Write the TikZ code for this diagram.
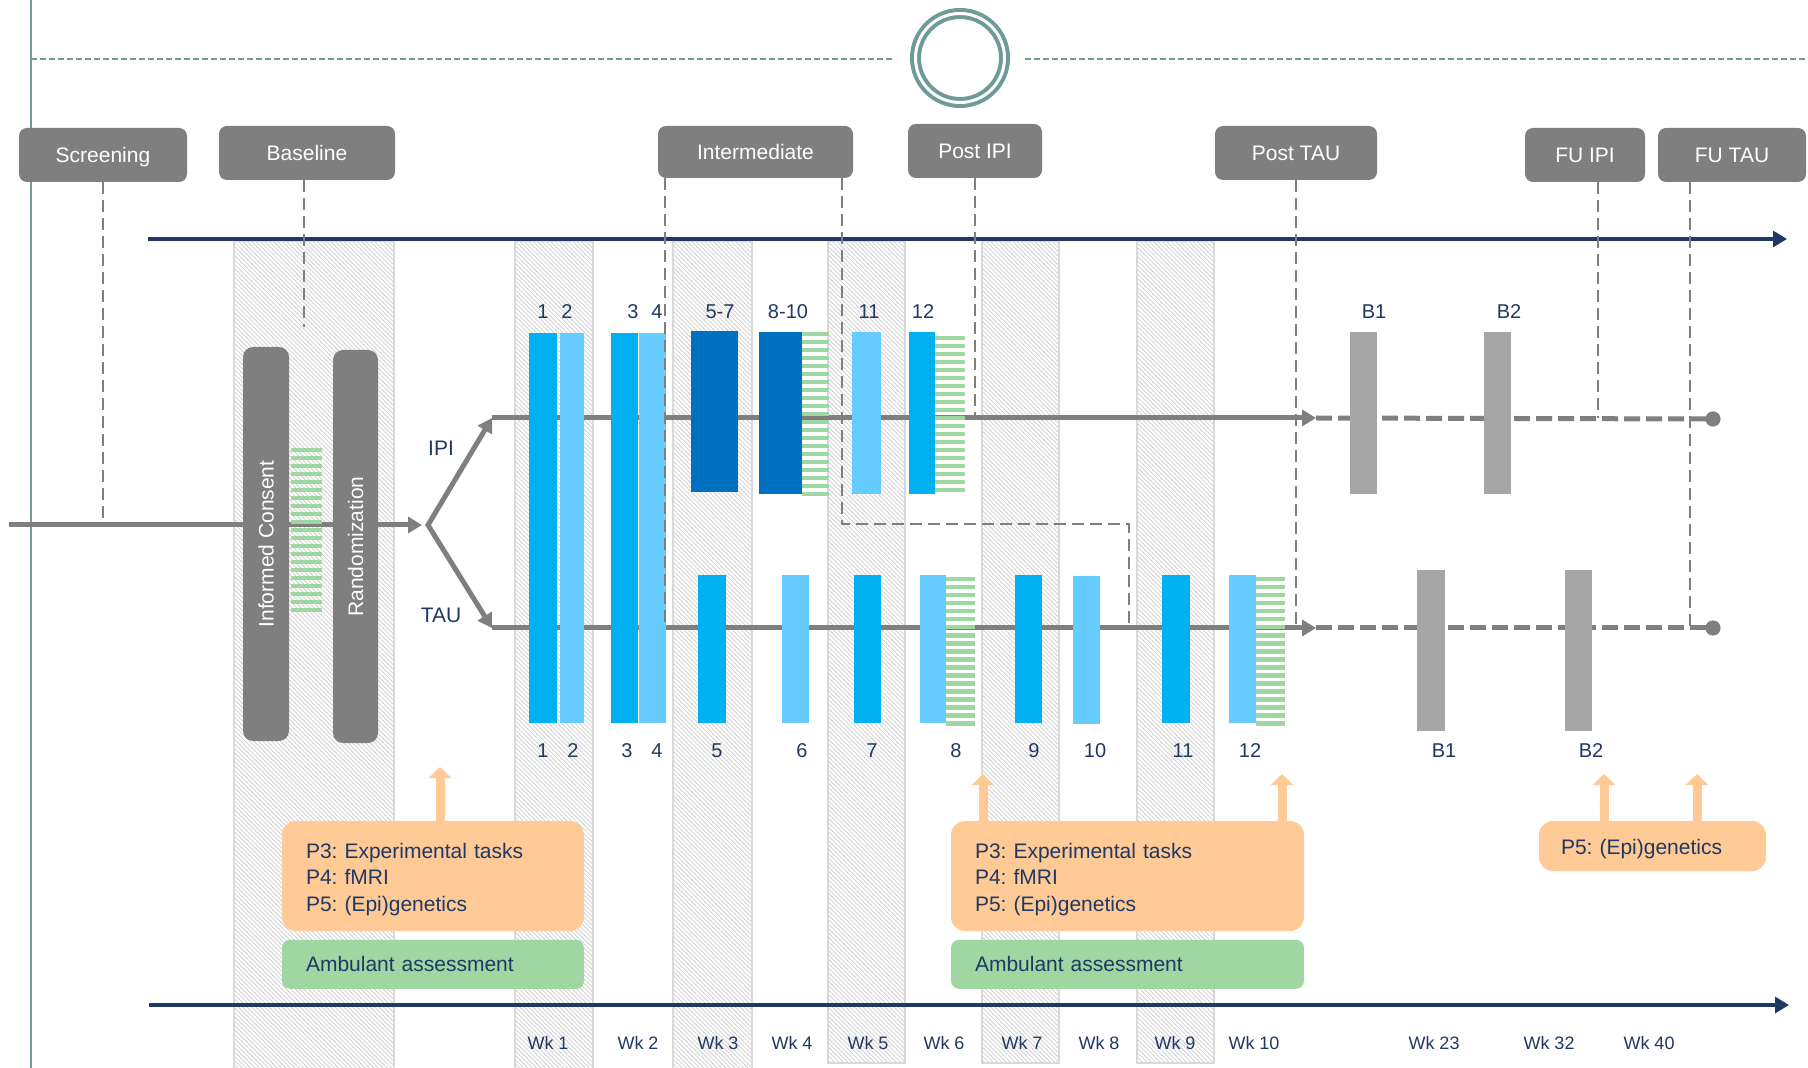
\documentclass[tikz,border=0pt]{standalone}
\usepackage{fontspec}
\setmainfont{Liberation Sans}
\usepackage{tikz}
\usetikzlibrary{arrows.meta, patterns, positioning}
\frenchspacing

\definecolor{navy}{HTML}{1F3864}
\definecolor{boxgrey}{HTML}{7F7F7F}
\definecolor{boostgrey}{HTML}{A6A6A6}
\definecolor{sessblue}{HTML}{00B0F0}
\definecolor{sesslight}{HTML}{66CCFF}
\definecolor{sessdark}{HTML}{0070C0}
\definecolor{stripegreen}{HTML}{A0D6A2}
\definecolor{taskpeach}{HTML}{FFCA95}
\definecolor{clockteal}{HTML}{6E9A98}

% fine hatching for the week columns
\pgfdeclarepatternformonly{finehatch}{\pgfqpoint{-1pt}{-1pt}}{\pgfqpoint{3.2pt}{3.2pt}}{\pgfqpoint{2.2pt}{2.2pt}}{%
  \pgfsetlinewidth{0.4pt}
  \pgfpathmoveto{\pgfqpoint{0pt}{2.2pt}}
  \pgfpathlineto{\pgfqpoint{2.3pt}{-0.1pt}}
  \pgfusepath{stroke}
}

\newcommand{\stripebar}[4]{%
  \pgfmathtruncatemacro{\nstripe}{(#4-#3)/8}%
  \foreach \k in {0,...,\nstripe}{%
    \fill[stripegreen] (#1,{#3+8*\k}) rectangle (#2,{#3+8*\k+4.5});
  }%
}

\tikzset{
    phase/.style={rectangle, fill=boxgrey, rounded corners=4pt, text=white, inner sep=0pt, minimum height=27pt, text depth=0pt, font=\fontsize{10.5}{12}\selectfont},
    phasebar/.style={rectangle, fill=boxgrey, rounded corners=5pt, text=white, inner sep=0pt, font=\fontsize{10.5}{12}\selectfont},
    taskbox/.style={rectangle, fill=taskpeach, rounded corners=7pt, text=navy, align=left, inner xsep=12pt, inner ysep=0pt, execute at begin node={\rule{0pt}{11pt}}, font=\fontsize{10.5}{13.3}\selectfont},
    ambbox/.style={rectangle, fill=stripegreen, rounded corners=4pt, text=navy, align=left, inner xsep=12pt, inner ysep=0pt, minimum height=24.5pt, font=\fontsize{10.5}{13.3}\selectfont},
    weekcol/.style={draw=black!15, line width=1pt, pattern=finehatch, pattern color=black!18},
    timeline/.style={draw=navy, line width=1.6pt, -{Triangle[length=7pt,width=8pt]}},
    flow/.style={draw=boxgrey, line width=2.5pt},
    flowarrow/.style={flow, -{Triangle[length=7pt,width=8pt]}},
    flowdash/.style={draw=boxgrey, line width=2.5pt, dash pattern=on 8pt off 3pt},
    guide/.style={draw=boxgrey, line width=0.8pt, dash pattern=on 6pt off 3pt},
    uparrow/.style={draw=taskpeach, line width=4.5pt, -{Triangle[length=5.5pt,width=11pt]}},
}

\begin{document}
\begin{tikzpicture}[x=0.5pt, y=-0.5pt,
    num/.style={text=navy, inner sep=0pt, font=\fontsize{10}{12}\selectfont},
    week/.style={text=navy, inner sep=0pt, font=\fontsize{9}{11}\selectfont},
    arm/.style={text=navy, inner sep=0pt, font=\fontsize{10.5}{12}\selectfont}
  ]
  \useasboundingbox (0,0) rectangle (1808,1068);

  % frame and clock
  \draw[clockteal, line width=1pt] (31,0) -- (31,1068);
  \node[circle, draw=clockteal, line width=2pt, double=white, double distance=1.5pt, minimum size=44.5pt, inner sep=0pt] (clock) at (960,58) {};
  \coordinate (dashL) at (31,59);
  \coordinate (dashR) at (1808,59);
  \draw[clockteal, line width=0.8pt, dash pattern=on 3pt off 1.5pt] (dashL) -- ([xshift=-10pt]clock.west |- dashL);
  \draw[clockteal, line width=0.8pt, dash pattern=on 3pt off 1.5pt] ([xshift=9pt]clock.east |- dashR) -- (dashR);

  % week columns
  \foreach \l/\r/\b in {234/394/1072, 515/593/1072, 673/752/1072, 828/905/1063, 982/1059/1063, 1137/1214/1063}
    \draw[weekcol] (\l,241) rectangle (\r,\b);

  % time axes
  \coordinate (timeA) at (148,239);
  \coordinate (timeB) at (1787,239);
  \coordinate (timeC) at (149,1005);
  \coordinate (timeD) at (1789,1005);
  \draw[timeline] (timeA) -- (timeB);
  \draw[timeline] (timeC) -- (timeD);

  % phases
  \node[phase, minimum width=84pt] (screen) at (103,155) {Screening};
  \node[phase, minimum width=88pt] (base) at (307,153) {Baseline};
  \node[phase, minimum width=97.5pt, minimum height=26pt] (inter) at (755.5,152) {Intermediate};
  \node[phase, minimum width=67pt] (postipi) at (975,151) {Post IPI};
  \node[phase, minimum width=81pt] (posttau) at (1296,153) {Post TAU};
  \node[phase, minimum width=60pt] (fuipi) at (1585,155) {FU IPI};
  \node[phase, minimum width=74pt] (futau) at (1732,155) {FU TAU};

  % study flow
  \coordinate (entry) at (9,525);
  \coordinate (split) at (422,525);
  \coordinate (fork) at (428,525);
  \coordinate (ipistart) at (492,418);
  \coordinate (taustart) at (492,628);
  \coordinate (ipipost) at (1316,418);
  \coordinate (taupost) at (1316,628);
  \coordinate (ipiend) at (1713,419);
  \coordinate (tauend) at (1713,628);
  \draw[flowarrow] (entry) -- (split);
  \draw[flowarrow] (ipistart) -- (ipipost);
  \draw[flowarrow] (taustart) -- (taupost);
  \draw[flow, {Triangle[length=7pt,width=8pt]}-{Triangle[length=7pt,width=8pt]}] (ipistart) -- (fork) -- (taustart);
  \draw[flowdash] (ipipost) -- (ipiend);
  \draw[flowdash] (taupost) -- (tauend);
  \fill[boxgrey] (ipiend) circle (3.8pt);
  \fill[boxgrey] (tauend) circle (3.8pt);

  \node[phasebar, rotate=90, minimum width=197pt, minimum height=23pt] (consent) at (266,544) {Informed Consent};
  \stripebar{291}{322}{448}{608}
  \node[phasebar, rotate=90, minimum width=196.5pt, minimum height=22.5pt] (random) at (355.5,546.5) {Randomization};

  % sessions 1-4 (both arms)
  \fill[sessblue] (529,333) rectangle (557,723);
  \fill[sesslight] (560,333) rectangle (584,723);
  \fill[sessblue] (611,333) rectangle (638,723);
  \fill[sesslight] (639,333) rectangle (666,723);
  % IPI arm
  \fill[sessdark] (691,331) rectangle (738,492);
  \fill[sessdark] (759,332) rectangle (802,494);
  \stripebar{802}{829}{332}{494}
  \fill[sesslight] (852,332) rectangle (881,494);
  \fill[sessblue] (909,332) rectangle (935,494);
  \stripebar{935}{965}{336}{492}
  \fill[boostgrey] (1350,332) rectangle (1377,494);
  \fill[boostgrey] (1484,332) rectangle (1511,494);
  % TAU arm
  \fill[sessblue] (698,575) rectangle (726,723);
  \fill[sesslight] (782,575) rectangle (809,723);
  \fill[sessblue] (854,575) rectangle (881,723);
  \fill[sesslight] (920,575) rectangle (946,723);
  \stripebar{946}{975}{577}{723}
  \fill[sessblue] (1015,575) rectangle (1042,723);
  \fill[sesslight] (1073,576) rectangle (1100,724);
  \fill[sessblue] (1162,575) rectangle (1190,723);
  \fill[sesslight] (1229,575) rectangle (1256,723);
  \stripebar{1256}{1285}{577}{721}
  \fill[boostgrey] (1417,570) rectangle (1445,731);
  \fill[boostgrey] (1565,570) rectangle (1592,731);

  % labels
  \node[arm] (ipilabel) at (441,448) {IPI};
  \node[arm] (taulabel) at (441,615) {TAU};
  \foreach \x/\t [count=\i] in {543/1, 567/2, 633/3, 657/4, 720/5-7, 788/8-10, 869/11, 923/12, 1374/B1, 1509/B2}
    \node[num] (ipinum\i) at (\x,312) {\t};
  \foreach \x/\t [count=\i] in {543/1, 573/2, 627/3, 657/4, 717/5, 802/6, 872/7, 956/8, 1034/9, 1095/10, 1183/11, 1250/12, 1444/B1, 1591/B2}
    \node[num] (taunum\i) at (\x,751) {\t};
  \foreach \x/\t [count=\i] in {548/1, 638/2, 718/3, 792/4, 868/5, 944/6, 1022/7, 1099/8, 1175/9, 1254/10, 1434/23, 1549/32, 1649/40}
    \node[week] (wk\i) at (\x,1043) {Wk \t};

  % phase guides
  \coordinate (baseend) at (304,327);
  \coordinate (interL) at (665,628);
  \coordinate (interR) at (842,524);
  \coordinate (interT) at (1129,628);
  \coordinate (fuipiend) at (1598,418);
  \coordinate (futauend) at (1690,628);
  \draw[guide] (screen.south) -- (screen.south |- entry);
  \draw[guide] (base.south -| baseend) -- (baseend);
  \draw[guide] (inter.south -| interL) -- (interL);
  \draw[guide] (inter.south -| interR) -- (interR) -| (interT);
  \draw[guide] (postipi.south) -- (postipi.south |- ipistart);
  \draw[guide] (posttau.south) -- (posttau.south |- taustart);
  \draw[guide] (fuipi.south -| fuipiend) -- (fuipiend);
  \draw[guide] (futau.south -| futauend) -- (futauend);

  % assessments
  \node[taskbox, text width=127pt, minimum height=55pt] (tasks1) at (433,876) {P3: Experimental tasks\\P4: fMRI\\P5: (Epi)genetics};
  \node[ambbox, text width=127pt, below=4pt of tasks1] (amb1) {Ambulant assessment};
  \node[taskbox, text width=152.5pt, minimum height=55pt] (tasks2) at (1127.5,876) {P3: Experimental tasks\\P4: fMRI\\P5: (Epi)genetics};
  \node[ambbox, text width=152.5pt, below=4pt of tasks2] (amb2) {Ambulant assessment};
  \node[taskbox, text width=91.5pt, inner xsep=11pt, minimum height=25pt] (tasks3) at (1652.5,846) {P5: (Epi)genetics};

  \coordinate (up1) at (440,767);
  \coordinate (up2) at (983,774);
  \coordinate (up3) at (1282,774);
  \coordinate (up4) at (1604,774);
  \coordinate (up5) at (1697,774);
  \draw[uparrow] (tasks1.north -| up1) -- (up1);
  \draw[uparrow] (tasks2.north -| up2) -- (up2);
  \draw[uparrow] (tasks2.north -| up3) -- (up3);
  \draw[uparrow] (tasks3.north -| up4) -- (up4);
  \draw[uparrow] (tasks3.north -| up5) -- (up5);

\end{tikzpicture}
\end{document}
